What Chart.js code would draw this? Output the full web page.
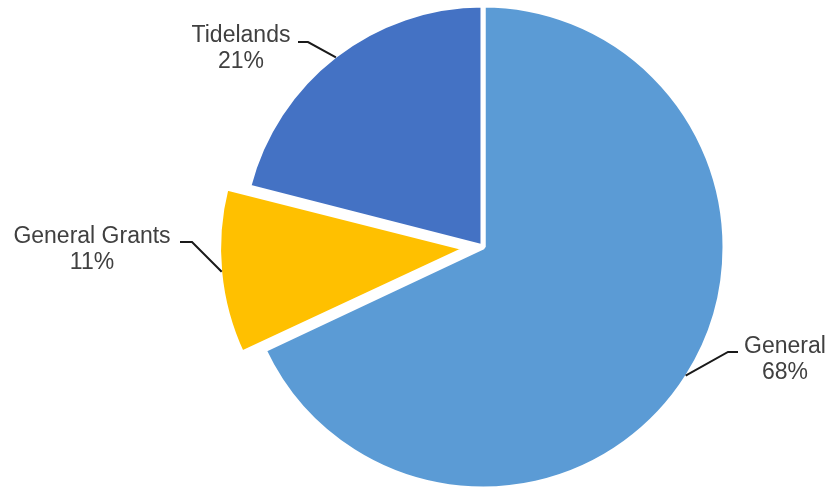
<!DOCTYPE html>
<html>
<head>
<meta charset="utf-8">
<style>
  html, body { margin: 0; padding: 0; background: #fff; }
  #wrap { width: 832px; height: 492px; }
</style>
</head>
<body>
<div id="wrap"><canvas id="pieChart" width="832" height="492"></canvas></div>
<script src="https://cdn.jsdelivr.net/npm/chart.js"></script>
<script>
// chart data
const categories = ['General', 'General Grants', 'Tidelands'];
const shares = [68, 11, 21];
const sliceColors = ['#5b9bd5', '#ffc000', '#4472c4'];
const explode = [0, 66, 0]; // chart.js moves an arc by offset/4

// where each label sits: text centre x, first baseline y, and the elbow of its leader line
const labelSpots = [
  { x: 785, y: 353, elbowX: 728, elbowY: 352, endX: 738 },
  { x: 92, y: 243, elbowX: 192, elbowY: 242, endX: 180 },
  { x: 241, y: 42, elbowX: 308, elbowY: 42, endX: 298 }
];

const leaderLabels = {
  id: 'leaderLabels',
  afterDatasetsDraw(chart) {
    const ctx = chart.ctx;
    const meta = chart.getDatasetMeta(0);
    meta.data.forEach((arc, i) => {
      const p = arc.getProps(['x', 'y', 'startAngle', 'endAngle', 'outerRadius', 'circumference'], true);
      const mid = (p.startAngle + p.endAngle) / 2;
      const shift = explode[i] / 4;
      const fix = 1 - Math.sin(Math.min(Math.PI, p.circumference));
      const r = p.outerRadius + shift + shift * fix - 2;
      const ax = p.x + Math.cos(mid) * r;
      const ay = p.y + Math.sin(mid) * r;
      const s = labelSpots[i];
      ctx.save();
      ctx.strokeStyle = '#1a1a1a';
      ctx.lineWidth = 2;
      ctx.beginPath();
      ctx.moveTo(ax, ay);
      ctx.lineTo(s.elbowX, s.elbowY);
      ctx.lineTo(s.endX, s.elbowY);
      ctx.stroke();
      ctx.fillStyle = '#404040';
      ctx.font = '23px "Liberation Sans", Arial, sans-serif';
      ctx.textAlign = 'center';
      ctx.textBaseline = 'alphabetic';
      ctx.fillText(categories[i], s.x, s.y);
      ctx.fillText(shares[i] + '%', s.x, s.y + 26);
      ctx.restore();
    });
  }
};

const ctx = document.getElementById('pieChart').getContext('2d');
const chart = new Chart(ctx, {
  type: 'pie',
  data: {
    labels: categories,
    datasets: [{
      data: shares,
      backgroundColor: sliceColors,
      borderColor: '#ffffff',
      borderWidth: 5,
      offset: explode
    }]
  },
  options: {
    responsive: false,
    animation: false,
    radius: 242,
    layout: { padding: { left: 134, top: 2 } },
    plugins: {
      legend: { display: false },
      tooltip: { enabled: false }
    }
  },
  plugins: [leaderLabels]
});
</script>
</body>
</html>
